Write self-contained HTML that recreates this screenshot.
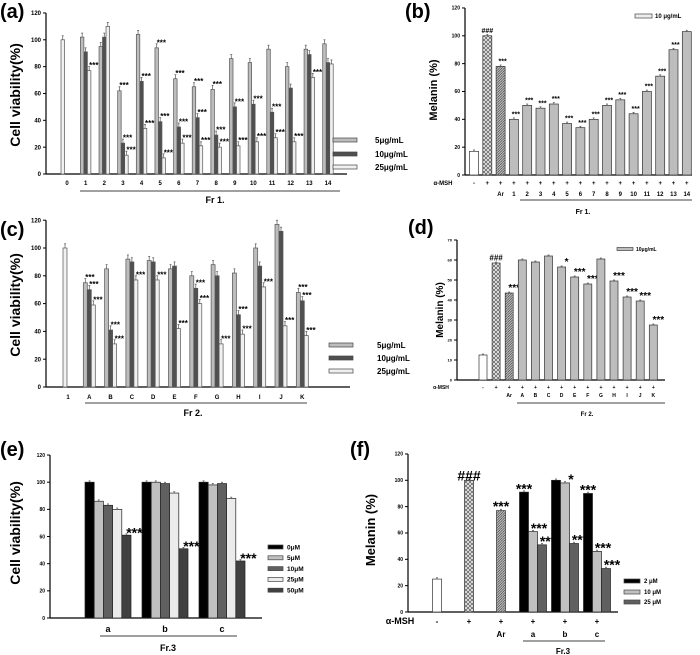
<!DOCTYPE html>
<html><head><meta charset="utf-8">
<style>
html,body{margin:0;padding:0;background:#fff;}
svg{display:block;font-family:"Liberation Sans",Arial,sans-serif;}
text{font-weight:bold;}
</style></head>
<body>
<svg id="fig" width="700" height="655" viewBox="0 0 700 655" xmlns="http://www.w3.org/2000/svg">
<defs>
<pattern id="cross" width="4" height="4" patternUnits="userSpaceOnUse">
<rect width="4" height="4" fill="#e4e4e4"/>
<path d="M0,0 L4,4 M4,0 L0,4" stroke="#444" stroke-width="0.6"/>
</pattern>
<pattern id="diag" width="2.5" height="2.5" patternUnits="userSpaceOnUse">
<rect width="2.5" height="2.5" fill="#bbb"/>
<path d="M0,2.5 L2.5,0" stroke="#333" stroke-width="0.6"/>
</pattern>
</defs>
<rect width="700" height="655" fill="#fff"/>
</svg>
<script>
// ---------- Panel (a) data ----------
const aCats=['0','1','2','3','4','5','6','7','8','9','10','11','12','13','14'];
const a5 =[null,102,95,62,104,94,71,65,63,86,83,93,80,93,97];
const a10=[null,91,102,23,69,39,35,42,29,50,52,46,64,89,83];
const a25=[100,77,110,14,34,12,23,21,20,21,24,27,24,72,82];
const aSig5 =[0,0,0,1,0,1,1,1,1,0,0,0,0,0,0];
const aSig10=[0,0,0,1,1,1,1,1,1,1,1,1,0,0,0];
const aSig25=[0,1,0,1,1,1,1,1,1,1,1,1,1,1,0];
const aTicks=[0,20,40,60,80,100,120];
// ---------- Panel (b) data ----------
const bMsh=['-','+','+','+','+','+','+','+','+','+','+','+','+','+','+','+','+'];
const bCats=['','','Ar','1','2','3','4','5','6','7','8','9','10','11','12','13','14'];
const bVals=[17,100,78,40,50,48,51,37,34,40,50,54,44,60,71,90,103];
const bSig=['','###','***','***','***','***','***','***','***','***','***','***','***','***','***','***',''];
const bTicks=[0,20,40,60,80,100,120];
// ---------- Panel (c) data ----------
const cCats=['1','A','B','C','D','E','F','G','H','I','J','K'];
const c5 =[null,75,85,92,91,85,80,88,82,100,117,68];
const c10=[null,70,41,90,90,87,71,80,52,87,112,62];
const c25=[100,59,31,77,77,42,60,31,38,72,44,37];
const cSig5 =[0,1,0,0,0,0,0,0,0,0,0,1];
const cSig10=[0,1,1,0,0,0,1,0,1,0,0,1];
const cSig25=[0,1,1,1,1,1,1,1,1,1,1,1];
const cTicks=[0,20,40,60,80,100,120];
// ---------- Panel (d) data ----------
const dMsh=['-','+','+','+','+','+','+','+','+','+','+','+','+','+'];
const dCats=['','','Ar','A','B','C','D','E','F','G','H','I','J','K'];
const dVals=[12.5,58.5,43.5,60,59,62,56.5,51.5,48,60.5,49.5,41.5,39.5,27.5];
const dSig=['','###','***','','','','*','***','***','','***','***','***','***'];
const dTicks=[0,10,20,30,40,50,60,70];
// ---------- Panel (e) data ----------
const eCats=['a','b','c'];
const eDoses=['0μM','5μM','10μM','25μM','50μM'];
const e0=[100,100,100];
const e5=[86,100,98];
const e10=[83,99,99];
const e25=[80,92,88];
const e50=[61,51,42];
const eSig50=['***','***','***'];
const eTicks=[0,20,40,60,80,100,120];
// ---------- Panel (f) data ----------
const fMsh=['-','+','+','+','+','+'];
const fCats=['','','Ar','a','b','c'];
const fSingle=[25,100,77];
const f2=[91,100,90];
const f10=[61,98,46];
const f25=[51,52,33];
const fSig2=['***','','***'];
const fSig10=['***','*','***'];
const fSig25=['***','***','***'];
const fSingleSig=['','###','***'];
const fTicks=[0,20,40,60,80,100,120];

const NS='http://www.w3.org/2000/svg';
const svg=document.getElementById('fig');
function mk(tag,attrs,parent){const e=document.createElementNS(NS,tag);for(const k in attrs)e.setAttribute(k,attrs[k]);(parent||svg).appendChild(e);return e;}
function txt(s,x,y,size,anchor,name,parent,extra){
  const t=mk('text',{x:x,y:y,'font-size':size,'text-anchor':anchor||'middle',fill:'#000'},parent);
  if(extra)for(const k in extra)t.setAttribute(k,extra[k]);
  t.textContent=s;
  
  
  return t;
}
function group(name){const g=mk('g',{});return g;}
function yAxis(g,ax,yFn,ticks,fs,axisName){
  const top=yFn(ticks[ticks.length-1]);
  const l=mk('line',{x1:ax,y1:yFn(0),x2:ax,y2:top,stroke:'#000','stroke-width':1.2},g);
  
  
  ticks.forEach(v=>{
    mk('line',{x1:ax-3,y1:yFn(v),x2:ax,y2:yFn(v),stroke:'#000','stroke-width':1},g);
    txt(String(v),ax-5,yFn(v)+fs*0.35,fs,'end','y-tick-label',g);
  });
}
function xAxis(g,x1,x2,y,name){
  const l=mk('line',{x1:x1,y1:y,x2:x2,y2:y,stroke:'#000','stroke-width':1.2},g);
  
  
}
function bar(g,x,w,v,yFn,fill,stroke,name,err){
  const y=yFn(v),y0=yFn(0);
  const r=mk('rect',{x:x,y:y,width:w,height:y0-y,fill:fill,stroke:stroke,'stroke-width':0.7},g);
  
  
  if(err){
    const ye=yFn(v+err);
    mk('line',{x1:x+w/2,y1:y,x2:x+w/2,y2:ye,stroke:'#555','stroke-width':0.7},g);
    mk('line',{x1:x+w/2-1,y1:ye,x2:x+w/2+1,y2:ye,stroke:'#555','stroke-width':0.7},g);
  }
  return y;
}
function star(g,s,x,top,fs,anchor){ if(!s)return; txt(s,x,top+fs*0.3,fs,anchor||'middle','significance-mark',g); }
function rotTitle(g,s,x,y,fs){ txt(s,x,y,fs,'middle','y-axis-title',g,{transform:'rotate(-90 '+x+' '+y+')'}); }
function legendRect(g,x,y,w,h,fill,label,tx,fs,name){
  const r=mk('rect',{x:x,y:y-h/2,width:w,height:h,fill:fill,stroke:'#444','stroke-width':0.7},g);
  
  
  txt(label,tx,y+fs*0.35,fs,'start','legend-label',g);
}

// ================= Panel (a) =================
(function(){
  const g=group('panel-a');
  const yA=v=>174-v*1.342;
  const cx=i=>67+i*18.64;
  const w=3.5;
  txt('(a)',0,18,20,'start','panel-label-a',g);
  rotTitle(g,'Cell viability(%)',20,95,14);
  yAxis(g,46,yA,aTicks,6,'y-axis-a');
  xAxis(g,46,347,174,'x-axis-a');
  const cols=['#bdbdbd','#505050','#f0f0f0'];
  const series=[a5,a10,a25], sigs=[aSig5,aSig10,aSig25];
  aCats.forEach((c,i)=>{
    txt(c,cx(i),185,6,'middle','x-tick-label',g);
    series.forEach((s,k)=>{
      if(s[i]==null)return;
      const x=(a5[i]==null)?cx(i)-6:cx(i)-w*1.5+k*w;
      const top=bar(g,x,w,s[i],yA,cols[k],'#555','bar-a-'+c,3);
      if(sigs[k][i])star(g,'***',x+w/2,top-5,8,'start');
    });
  });
  mk('line',{x1:80,y1:191,x2:340,y2:191,stroke:'#000','stroke-width':0.8},g);
  txt('Fr 1.',215,203,9,'middle','x-group-label-a',g);
  legendRect(g,333,140,24,4,cols[0],'5μg/mL',375,8,'legend-swatch-5');
  legendRect(g,333,154,24,4,cols[1],'10μg/mL',375,8,'legend-swatch-10');
  legendRect(g,333,167,24,4,cols[2],'25μg/mL',375,8,'legend-swatch-25');
})();

// ================= Panel (b) =================
(function(){
  const g=group('panel-b');
  const yB=v=>175-v*1.392;
  const cx=i=>474+i*13.3;
  const w=9;
  txt('(b)',405,18,20,'start','panel-label-b',g);
  rotTitle(g,'Melanin (%)',437,90,11);
  yAxis(g,465,yB,bTicks,5,'y-axis-b');
  xAxis(g,465,692,175,'x-axis-b');
  txt('α-MSH',443,185,6,'middle','alpha-msh-label',g);
  bVals.forEach((v,i)=>{
    const fill=i===0?'#fff':(i===1?'url(#cross)':(i===2?'url(#diag)':'#bdbdbd'));
    const top=bar(g,cx(i)-w/2,w,v,yB,fill,'#333','bar-b-'+(bCats[i]||bMsh[i]),1);
    star(g,bSig[i],cx(i)+(i===1?0:2),top-5,7);
    txt(bMsh[i],cx(i),185,6,'middle','msh-sign',g);
    if(bCats[i])txt(bCats[i],cx(i),196,6,'middle','x-tick-label',g);
  });
  mk('line',{x1:520,y1:200,x2:692,y2:200,stroke:'#000','stroke-width':0.8},g);
  txt('Fr 1.',583,214,7,'middle','x-group-label-b',g);
  legendRect(g,635,16,17,4,'#eee','10 μg/mL',655,6,'legend-swatch-b');
})();

// ================= Panel (c) =================
(function(){
  const g=group('panel-c');
  const yC=v=>387-v*1.39;
  const cx=i=>68+i*21.3;
  const w=4;
  txt('(c)',0,236,20,'start','panel-label-c',g);
  rotTitle(g,'Cell viability(%)',20,305,14);
  yAxis(g,46,yC,cTicks,6,'y-axis-c');
  xAxis(g,46,350,387,'x-axis-c');
  const cols=['#bdbdbd','#505050','#f0f0f0'];
  const series=[c5,c10,c25], sigs=[cSig5,cSig10,cSig25];
  cCats.forEach((c,i)=>{
    txt(c,cx(i),399,6,'middle','x-tick-label',g);
    series.forEach((s,k)=>{
      if(s[i]==null)return;
      const x=(c5[i]==null)?cx(i)-5:cx(i)-w*1.5+k*w;
      const top=bar(g,x,w,s[i],yC,cols[k],'#555','bar-c-'+c,3);
      if(sigs[k][i])star(g,'***',x+w/2,top-5,8,'start');
    });
  });
  mk('line',{x1:85,y1:403,x2:307,y2:403,stroke:'#000','stroke-width':0.8},g);
  txt('Fr 2.',193,416,9,'middle','x-group-label-c',g);
  legendRect(g,329,345,24,4,cols[0],'5μg/mL',377,8,'legend-swatch-5');
  legendRect(g,329,358,24,4,cols[1],'10μg/mL',377,8,'legend-swatch-10');
  legendRect(g,329,371,24,4,cols[2],'25μg/mL',377,8,'legend-swatch-25');
})();

// ================= Panel (d) =================
(function(){
  const g=group('panel-d');
  const yD=v=>380-v*2.0;
  const cx=i=>483+i*13.1;
  const w=8;
  txt('(d)',408,234,20,'start','panel-label-d',g);
  rotTitle(g,'Melanin (%)',443,310,10);
  yAxis(g,457,yD,dTicks,4,'y-axis-d');
  xAxis(g,457,665,380,'x-axis-d');
  txt('α-MSH',441,389,5,'middle','alpha-msh-label',g);
  dVals.forEach((v,i)=>{
    const fill=i===0?'#fff':(i===1?'url(#cross)':(i===2?'url(#diag)':'#bdbdbd'));
    const top=bar(g,cx(i)-w/2,w,v,yD,fill,'#333','bar-d-'+(dCats[i]||dMsh[i]),0.5);
    const sx=dSig[i]==='###'?cx(i):cx(i)+5;
    star(g,dSig[i],sx,top-5,dSig[i]==='###'?8:10);
    txt(dMsh[i],cx(i),389,5,'middle','msh-sign',g);
    if(dCats[i])txt(dCats[i],cx(i),397,5,'middle','x-tick-label',g);
  });
  mk('line',{x1:517,y1:403,x2:665,y2:403,stroke:'#000','stroke-width':0.8},g);
  txt('Fr 2.',587,416,6,'middle','x-group-label-d',g);
  legendRect(g,617,249,16,3,'#bdbdbd','10μg/mL',636,5,'legend-swatch-d');
})();

// ================= Panel (e) =================
(function(){
  const g=group('panel-e');
  const yE=v=>618-v*1.358;
  const cx=i=>108+i*57;
  const w=9.2;
  txt('(e)',0,456,20,'start','panel-label-e',g);
  rotTitle(g,'Cell viability(%)',20,533,14);
  yAxis(g,50,yE,eTicks,5,'y-axis-e');
  xAxis(g,50,262,618,'x-axis-e');
  const cols=['#000','#c0c0c0','#606060','#ebebeb','#404040'];
  const series=[e0,e5,e10,e25,e50];
  eCats.forEach((c,i)=>{
    txt(c,cx(i),632,9,'middle','x-tick-label',g);
    series.forEach((s,k)=>{
      const x=cx(i)-w*2.5+k*w;
      const top=bar(g,x,w,s[i],yE,cols[k],'#222','bar-e-'+c+'-'+eDoses[k],1);
      if(k===4)star(g,eSig50[i],x+w/2+8,top-2,14);
    });
  });
  mk('line',{x1:100,y1:636,x2:237,y2:636,stroke:'#000','stroke-width':0.8},g);
  txt('Fr.3',168,651,9,'middle','x-group-label-e',g);
  eDoses.forEach((d,k)=>{
    legendRect(g,268,547+k*10.8,15,4,cols[k],d,287,6.5,'legend-swatch-e');
  });
})();

// ================= Panel (f) =================
(function(){
  const g=group('panel-f');
  const yF=v=>612-v*1.317;
  const cx=i=>437+i*32;
  const w=9;
  txt('(f)',350,456,20,'start','panel-label-f',g);
  rotTitle(g,'Melanin (%)',375,530,13);
  yAxis(g,408,yF,fTicks,5,'y-axis-f');
  xAxis(g,408,618,612,'x-axis-f');
  txt('α-MSH',400,624,9,'middle','alpha-msh-label',g);
  fSingle.forEach((v,i)=>{
    const fill=i===0?'#fff':(i===1?'url(#cross)':'url(#diag)');
    const top=bar(g,cx(i)-w/2,w,v,yF,fill,'#333','bar-f-'+(fCats[i]||fMsh[i]),1);
    star(g,fSingleSig[i],cx(i),top-4,14);
  });
  const cols=['#000','#c0c0c0','#606060'];
  const series=[f2,f10,f25], sigs=[fSig2,fSig10,fSig25];
  [0,1,2].forEach(j=>{
    const i=j+3;
    series.forEach((s,k)=>{
      const x=cx(i)-w*1.5+k*w;
      const top=bar(g,x,w,s[j],yF,cols[k],'#222','bar-f-'+fCats[i],1);
      star(g,sigs[k][j],x+w/2+(k===0?0:6),top-3,14);
    });
  });
  fMsh.forEach((m,i)=>{
    txt(m,cx(i),624,8,'middle','msh-sign',g);
    if(fCats[i])txt(fCats[i],cx(i),637,8,'middle','x-tick-label',g);
  });
  mk('line',{x1:523,y1:641,x2:605,y2:641,stroke:'#000','stroke-width':0.8},g);
  txt('Fr.3',563,654,8,'middle','x-group-label-f',g);
  legendRect(g,624,581,16,4,cols[0],'2 μM',644,6,'legend-swatch-f');
  legendRect(g,624,592,16,4,cols[1],'10 μM',644,6,'legend-swatch-f');
  legendRect(g,624,602,16,4,cols[2],'25 μM',644,6,'legend-swatch-f');
})();
</script>
</body></html>
